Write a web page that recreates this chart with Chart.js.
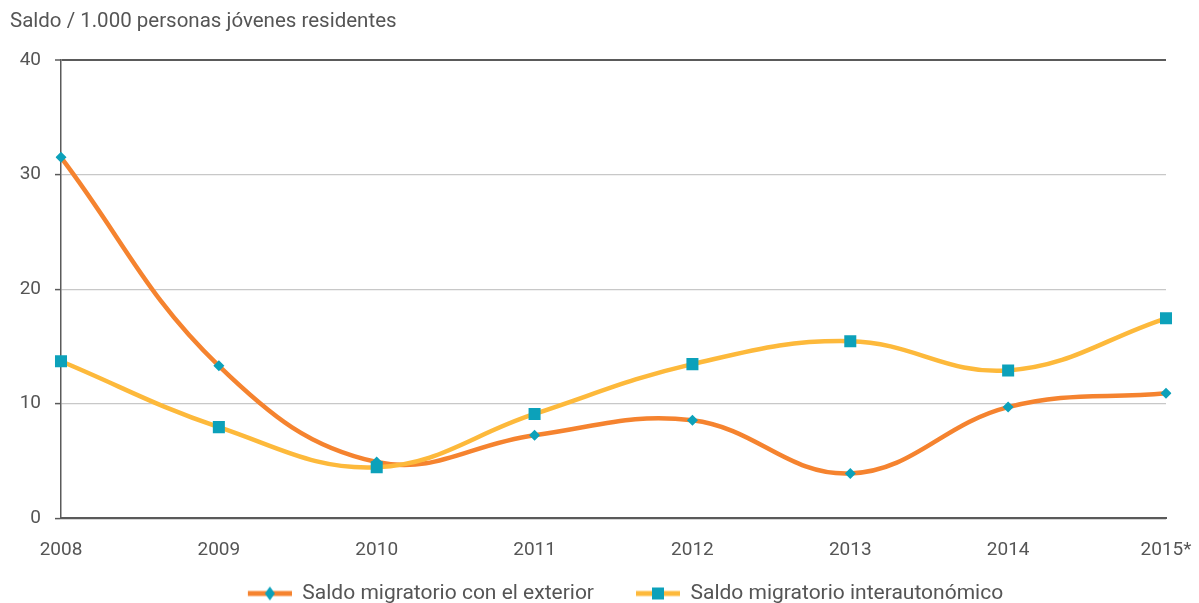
<!DOCTYPE html>
<html><head><meta charset="utf-8">
<script src="https://cdn.jsdelivr.net/npm/chart.js@4/dist/chart.umd.min.js"></script>
<style>html,body{margin:0;padding:0;background:#fff}#wrap{width:1199px;height:603px}</style>
</head><body><div id="wrap"><canvas id="c" width="1199" height="603"></canvas></div>
<script>
const categories = ['2008','2009','2010','2011','2012','2013','2014','2015*'];
const exterior = [31.5, 13.3, 4.9, 7.25, 8.55, 3.9, 9.7, 10.9];
const interautonomico = [13.7, 7.95, 4.45, 9.1, 13.45, 15.45, 12.9, 17.45];
const yTicks = [0, 10, 20, 30, 40];
const seriesNames = ['Saldo migratorio con el exterior', 'Saldo migratorio interautonómico'];
const titleText = 'Saldo / 1.000 personas jóvenes residentes';

const ORANGE = '#F5832F', YELLOW = '#FDB93B', TEAL = '#0CA1BA', TXT = '#555555', AX = '#5a5a5a';

const ICON_MARGIN = 42, ICON_W = 44;
function legendIcon(color, style) {
  const cv = document.createElement('canvas');
  cv.width = ICON_MARGIN + ICON_W; cv.height = 16;
  const g = cv.getContext('2d');
  const x0 = ICON_MARGIN, cx = x0 + ICON_W / 2;
  g.strokeStyle = color; g.lineWidth = 5;
  g.beginPath(); g.moveTo(x0, 8); g.lineTo(x0 + ICON_W, 8); g.stroke();
  g.fillStyle = TEAL;
  if (style === 'diamond') {
    g.beginPath(); g.moveTo(cx, 1); g.lineTo(cx + 5, 8); g.lineTo(cx, 15); g.lineTo(cx - 5, 8); g.closePath(); g.fill();
  } else {
    g.fillRect(cx - 6, 2, 12, 12);
  }
  return cv;
}
const icons = [legendIcon(ORANGE, 'diamond'), legendIcon(YELLOW, 'square')];

Chart.defaults.font.family = 'Roboto, "DejaVu Sans", sans-serif';
Chart.defaults.color = TXT;

new Chart(document.getElementById('c'), {
  type: 'line',
  data: {
    labels: categories,
    datasets: [
      { label: seriesNames[0], data: exterior, borderColor: ORANGE, borderWidth: 4.5,
        tension: 0.4, pointStyle: 'rectRot', pointRadius: 5.5, pointBackgroundColor: TEAL,
        pointBorderWidth: 0, pointBorderColor: TEAL, order: 2 },
      { label: seriesNames[1], data: interautonomico, borderColor: YELLOW, borderWidth: 4.5,
        tension: 0.4, pointStyle: 'rect', pointRadius: 8.5, pointBackgroundColor: TEAL,
        pointBorderWidth: 0, pointBorderColor: TEAL, order: 1 }
    ]
  },
  options: {
    responsive: false, animation: false, devicePixelRatio: 1,
    layout: { padding: { left: 10, right: 0, top: 0, bottom: -11 } },
    plugins: {
      tooltip: { enabled: false },
      title: { display: true, text: titleText, align: 'start', color: TXT,
        font: { size: 20.5, weight: 'normal' }, padding: { top: 10, bottom: 25.4 } },
      legend: {
        position: 'bottom',
        labels: {
          usePointStyle: true, pointStyleWidth: ICON_MARGIN + ICON_W, boxHeight: 16, padding: 0,
          color: TXT, font: { size: 21 },
          sort: (a, b) => a.datasetIndex - b.datasetIndex,
          generateLabels: (chart) => chart.data.datasets.map((d, i) => ({
            text: d.label, pointStyle: icons[i], datasetIndex: i, fontColor: TXT,
            lineWidth: 0, strokeStyle: 'transparent', fillStyle: 'transparent', hidden: false
          }))
        }
      }
    },
    scales: {
      x: {
        offset: false,
        afterFit: (s) => { s.paddingRight = 33; },
        grid: { display: true, drawOnChartArea: false, drawTicks: false },
        border: { display: true, color: AX, width: 2 },
        ticks: { padding: 21, color: TXT, font: { size: 19 }, maxRotation: 0 }
      },
      y: {
        min: 0, max: 40,
        afterBuildTicks: (s) => { s.ticks = yTicks.map(v => ({ value: v })); },
        afterFit: (s) => { s.width = 51; },
        grid: { color: (c) => c.tick && (c.tick.value === 40 || c.tick.value === 0) ? AX : '#c8c8c8',
          lineWidth: (c) => c.tick && (c.tick.value === 40) ? 2 : 1.2,
          tickColor: AX, tickLength: 6, tickWidth: 1.5 },
        border: { display: true, color: AX, width: 1.5 },
        ticks: { padding: 14, color: TXT, font: { size: 19 } }
      }
    }
  }
});
</script></body></html>
